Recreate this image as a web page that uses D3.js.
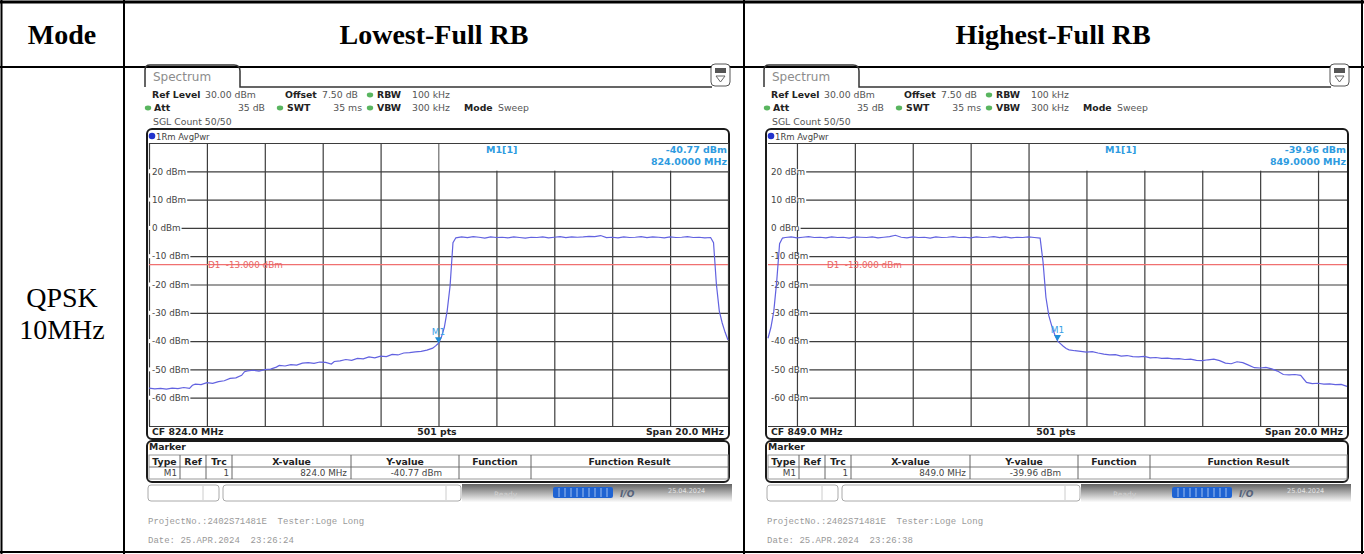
<!DOCTYPE html>
<html>
<head>
<meta charset="utf-8">
<script src="https://cdnjs.cloudflare.com/ajax/libs/d3/7.8.5/d3.min.js"></script>
<style>
  html, body { margin: 0; padding: 0; background: #fff; }
  svg { display: block; }
  .inst { font-family: "DejaVu Sans", Verdana, sans-serif; }
  .mono { font-family: "Liberation Mono", monospace; white-space: pre; }
</style>
</head>
<body>
<svg id="chart" width="1364" height="554"></svg>
<script>
// table texts
const columns = ["Mode", "Lowest-Full RB", "Highest-Full RB"];
const modeLines = ["QPSK", "10MHz"];

// analyzer y grid
const yTickValues = [20, 10, 0, -10, -20, -30, -40, -50, -60];
const yTickLabels = ["20 dBm", "10 dBm", "0 dBm", "-10 dBm", "-20 dBm", "-30 dBm", "-40 dBm", "-50 dBm", "-60 dBm"];

// per plot settings
const centerFreqs = [824.0, 849.0];
const markerFreqs = [824.0, 849.0];
const markerLevels = [-40.77, -39.96];
const limitLevel = -13;
const timeStamps = ["23:26:24", "23:26:38"];

// trace: [MHz, dBm]
const lowTrace = [
  [814.0,-56.6],[814.2,-56.9],[814.4,-56.7],[814.6,-57.0],[814.8,-56.6],[815.0,-56.8],[815.2,-56.4],[815.4,-56.7],
  [815.5,-55.6],[815.6,-55.2],[815.8,-55.4],[816.0,-54.7],[816.2,-54.9],[816.4,-54.3],[816.6,-54.0],[816.8,-53.2],
  [817.0,-53.0],[817.2,-52.1],[817.3,-50.8],[817.4,-50.5],[817.6,-50.3],[817.8,-50.6],[818.0,-50.1],[818.2,-49.9],
  [818.4,-49.2],[818.5,-48.6],[818.7,-48.8],[818.9,-48.3],[819.1,-48.5],[819.3,-47.8],[819.5,-47.6],[819.7,-47.9],
  [819.9,-47.4],[820.1,-47.5],[820.3,-48.1],[820.4,-47.2],[820.6,-47.0],[820.8,-46.5],[821.0,-46.8],[821.2,-46.1],
  [821.4,-46.3],[821.6,-45.6],[821.8,-45.9],[822.0,-45.3],[822.2,-45.5],[822.4,-44.7],[822.6,-44.9],[822.8,-44.2],
  [823.0,-44.1],[823.2,-43.8],[823.4,-43.6],[823.6,-43.2],[823.8,-42.5],[823.9,-41.7],[824.0,-40.77],[824.1,-38.6],
  [824.2,-35.2],[824.3,-29.3],[824.4,-20.5],[824.5,-5.2],[824.6,-3.5],[824.8,-3.2],[825.0,-3.4],[825.2,-3.1],
  [825.4,-3.3],[825.6,-3.6],[825.8,-3.2],[826.0,-3.4],[826.2,-3.3],[826.4,-3.5],[826.6,-3.2],[826.8,-3.4],
  [827.0,-3.6],[827.2,-3.3],[827.4,-3.4],[827.6,-3.2],[827.8,-3.5],[828.0,-3.3],[828.2,-3.1],[828.4,-3.4],
  [828.6,-3.2],[828.8,-3.3],[829.0,-3.2],[829.2,-3.0],[829.4,-3.1],[829.6,-2.7],[829.8,-3.4],[830.0,-3.3],
  [830.2,-3.5],[830.4,-3.2],[830.6,-3.4],[830.8,-3.3],[831.0,-3.1],[831.2,-3.4],[831.4,-3.2],[831.6,-3.3],
  [831.8,-3.5],[832.0,-3.2],[832.2,-3.4],[832.4,-3.3],[832.6,-3.1],[832.8,-3.4],[833.0,-3.3],[833.2,-3.5],
  [833.4,-3.4],[833.5,-5.2],[833.6,-20.0],[833.7,-29.4],[833.8,-33.6],[833.9,-36.9],[834.0,-39.6]
];

const highTrace = [
  [839.0,-39.0],[839.1,-35.2],[839.2,-29.5],[839.3,-19.0],[839.4,-5.6],[839.5,-3.6],[839.6,-3.4],[839.8,-3.2],
  [840.0,-3.5],[840.2,-3.3],[840.4,-3.1],[840.6,-3.4],[840.8,-3.3],[841.0,-3.5],[841.2,-3.2],[841.4,-3.4],
  [841.6,-3.3],[841.8,-3.6],[842.0,-3.2],[842.2,-3.3],[842.4,-3.4],[842.6,-3.2],[842.8,-3.5],[843.0,-3.3],
  [843.2,-3.1],[843.4,-2.6],[843.6,-3.3],[843.8,-3.5],[844.0,-3.2],[844.2,-3.4],[844.4,-3.3],[844.6,-3.6],
  [844.8,-3.2],[845.0,-3.4],[845.2,-3.3],[845.4,-3.1],[845.6,-3.4],[845.8,-3.3],[846.0,-3.5],[846.2,-3.2],
  [846.4,-3.4],[846.6,-3.3],[846.8,-3.1],[847.0,-3.4],[847.2,-3.2],[847.4,-3.5],[847.6,-3.3],[847.8,-3.4],
  [848.0,-3.2],[848.2,-3.4],[848.4,-3.6],[848.5,-12.0],[848.6,-24.5],[848.7,-31.0],[848.8,-34.6],[848.9,-37.6],
  [849.0,-39.96],[849.1,-40.9],[849.2,-41.8],[849.3,-42.6],[849.4,-43.1],[849.6,-43.4],[849.8,-43.6],[850.0,-43.9],
  [850.2,-43.7],[850.4,-44.2],[850.6,-44.6],[850.8,-44.9],[851.0,-44.8],[851.2,-45.3],[851.4,-45.1],[851.6,-45.5],
  [851.8,-45.6],[852.0,-45.4],[852.2,-45.9],[852.4,-45.8],[852.6,-46.1],[852.8,-46.0],[853.0,-46.3],[853.2,-46.2],
  [853.4,-46.5],[853.6,-46.4],[853.8,-46.8],[854.0,-46.9],[854.2,-46.6],[854.4,-46.4],[854.6,-46.9],[854.8,-47.8],
  [855.0,-48.0],[855.2,-47.3],[855.4,-47.6],[855.6,-48.5],[855.8,-49.4],[856.0,-49.5],[856.2,-49.3],[856.4,-49.8],
  [856.6,-50.6],[856.8,-51.8],[857.0,-51.9],[857.2,-51.8],[857.4,-52.1],[857.6,-54.6],[857.8,-55.0],[858.0,-54.9],
  [858.2,-55.2],[858.4,-55.1],[858.6,-55.4],[858.8,-55.3],[859.0,-56.0]
];

const traces = [lowTrace, highTrace];

const svg = d3.select("#chart");

// ---- the document table ----
const tbl = svg.append("g");
const colX = d3.scaleOrdinal().domain(columns).range([62, 434, 1053]);

tbl.selectAll("text.head")
  .data(columns)
  .enter()
  .append("text")
  .attr("class", "head")
  .attr("x", d => colX(d))
  .attr("y", 44)
  .attr("text-anchor", "middle")
  .style("font-family", "'Liberation Serif', 'Times New Roman', serif")
  .style("font-weight", "bold")
  .style("font-size", "28px")
  .text(d => d);

tbl.selectAll("text.mode")
  .data(modeLines)
  .enter()
  .append("text")
  .attr("class", "mode")
  .attr("x", 62)
  .attr("y", (d, i) => 307 + i * 32)
  .attr("text-anchor", "middle")
  .style("font-family", "'Liberation Serif', 'Times New Roman', serif")
  .style("font-size", "28px")
  .text(d => d);

const borders = [
  [0, 2, 1364, 2, 3], [0, 67, 1364, 67, 2], [0, 552, 1364, 552, 2],
  [1.5, 0, 1.5, 554, 2], [124, 0, 124, 554, 2], [744, 0, 744, 554, 2], [1362, 0, 1362, 554, 2]
];
tbl.selectAll("line")
  .data(borders)
  .enter()
  .append("line")
  .attr("x1", d => d[0]).attr("y1", d => d[1])
  .attr("x2", d => d[2]).attr("y2", d => d[3])
  .attr("stroke", "#000")
  .attr("stroke-width", d => d[4]);

// status bar gradient
const defs = svg.append("defs");
const grad = defs.append("linearGradient").attr("id", "sbar").attr("x1", 0).attr("y1", 0).attr("x2", 0).attr("y2", 1);
grad.append("stop").attr("offset", "0%").attr("stop-color", "#626262");
grad.append("stop").attr("offset", "100%").attr("stop-color", "#fbfbfb");

// ---- one analyzer screenshot ----
function drawPanel(i, dx) {
  const cf = centerFreqs[i];
  const g = svg.append("g").attr("class", "inst").attr("transform", "translate(" + dx + ",0)");

  const x = d3.scaleLinear().domain([cf - 10, cf + 10]).range([149, 728]);
  const y = d3.scaleLinear().domain([-70, 30]).range([426, 143]);

  // tab + header line
  g.append("path")
    .attr("d", "M145,87 V70 Q145,65 150,65 H234 Q240,65 240,71 V87 H712")
    .attr("fill", "none").attr("stroke", "#333").attr("stroke-width", 1.5);
  g.append("text").attr("x", 153).attr("y", 81).attr("fill", "#8c8c8c")
    .style("font-size", "12px").text("Spectrum");

  // little icon at top right
  g.append("rect").attr("x", 711).attr("y", 64).attr("width", 19).attr("height", 22).attr("rx", 4)
    .attr("fill", "#fff").attr("stroke", "#555").attr("stroke-width", 1);
  g.append("rect").attr("x", 715).attr("y", 68).attr("width", 11).attr("height", 5).attr("fill", "#555");
  g.append("path").attr("d", "M716,76 L725,76 L720.5,82 Z").attr("fill", "none").attr("stroke", "#666");

  // settings lines
  const hdr = [
    [152, 98, "Ref Level", true], [205, 98, "30.00 dBm", false], [285, 98, "Offset", true],
    [322, 98, "7.50 dB", false], [377, 98, "RBW", true], [412, 98, "100 kHz", false],
    [154, 111, "Att", true], [265, 111, "35 dB", false, "end"], [287, 111, "SWT", true],
    [362, 111, "35 ms", false, "end"], [377, 111, "VBW", true], [412, 111, "300 kHz", false],
    [464, 111, "Mode", true], [498, 111, "Sweep", false],
    [153, 125, "SGL Count 50/50", false]
  ];
  g.selectAll("text.hdr")
    .data(hdr)
    .enter()
    .append("text")
    .attr("class", "hdr")
    .attr("x", d => d[0]).attr("y", d => d[1])
    .attr("text-anchor", d => d[4] || "start")
    .attr("fill", d => d[3] ? "#222" : "#555")
    .style("font-weight", d => d[3] ? "bold" : "normal")
    .style("font-size", "9.3px")
    .text(d => d[2]);

  const dots = [[370, 95], [148, 108], [280, 108], [370, 108]];
  g.selectAll("ellipse.led")
    .data(dots)
    .enter()
    .append("ellipse")
    .attr("class", "led")
    .attr("cx", d => d[0]).attr("cy", d => d[1])
    .attr("rx", 3.2).attr("ry", 2.4)
    .attr("fill", "#59b55f");

  // diagram frame
  g.append("rect").attr("x", 147).attr("y", 129).attr("width", 582).attr("height", 310).attr("rx", 5)
    .attr("fill", "#fff").attr("stroke", "#1a1a1a").attr("stroke-width", 2);
  g.append("circle").attr("cx", 152).attr("cy", 136).attr("r", 3.3).attr("fill", "#2233cc");
  g.append("text").attr("x", 156).attr("y", 139.5).attr("fill", "#444")
    .style("font-size", "8.5px").text("1Rm AvgPwr");

  // grid
  const vGrid = g.append("g")
    .attr("transform", "translate(0,426)")
    .call(d3.axisBottom(x).ticks(10).tickSize(-283).tickFormat(""));
  const hGrid = g.append("g")
    .attr("transform", "translate(149,0)")
    .call(d3.axisLeft(y).tickValues(yTickValues.concat([30, -70])).tickSize(-579).tickFormat(""));
  [vGrid, hGrid].forEach(a => {
    a.select(".domain").remove();
    a.selectAll("line").attr("stroke", "#3d3d3d").attr("stroke-width", 1.2);
  });

  // marker readout box hides the top grid cell on the right
  g.append("rect").attr("x", x(cf) + 1).attr("y", y(30) + 1).attr("width", 728 - x(cf) - 1)
    .attr("height", y(20) - y(30) - 1.6).attr("fill", "#fff");
  g.append("text").attr("x", 486).attr("y", 153).attr("fill", "#2e9be0")
    .style("font-size", "9.5px").style("font-weight", "bold").text("M1[1]");
  g.append("text").attr("x", 727).attr("y", 153).attr("text-anchor", "end").attr("fill", "#2e9be0")
    .style("font-size", "9.5px").style("font-weight", "bold").text(markerLevels[i].toFixed(2) + " dBm");
  g.append("text").attr("x", 727).attr("y", 165).attr("text-anchor", "end").attr("fill", "#2e9be0")
    .style("font-size", "9.5px").style("font-weight", "bold").text(markerFreqs[i].toFixed(4) + " MHz");

  // y labels sit on a white patch that cuts the grid line
  const labBg = g.append("g");
  const labs = g.selectAll("text.ylab")
    .data(yTickValues)
    .enter()
    .append("text")
    .attr("class", "ylab")
    .attr("x", 152)
    .attr("y", d => y(d) + 3.2)
    .attr("fill", "#444")
    .style("font-size", "8.8px")
    .text((d, k) => yTickLabels[k]);
  labs.each(function (d) {
    const b = this.getBBox();
    labBg.append("rect")
      .attr("x", 149).attr("y", y(d) - 2)
      .attr("width", b.x + b.width + 1 - 149).attr("height", 4)
      .attr("fill", "#fff");
  });

  // limit line
  g.append("line").attr("x1", 149).attr("x2", 728).attr("y1", y(limitLevel)).attr("y2", y(limitLevel))
    .attr("stroke", "#f07070").attr("stroke-width", 1.2);
  g.append("text").attr("x", x(cf - 8) + 1).attr("y", y(limitLevel) + 3.2).attr("fill", "#e86464")
    .style("font-size", "8.8px").style("white-space", "pre").text("D1  -13.000 dBm");

  // trace
  const line = d3.line().x(d => x(d[0])).y(d => y(d[1]));
  g.append("path")
    .datum(traces[i])
    .attr("d", line)
    .attr("fill", "none")
    .attr("stroke", "#6262e0")
    .attr("stroke-width", 1.2);

  // marker
  const mx = x(markerFreqs[i]), my = y(markerLevels[i]);
  g.append("path").attr("d", "M" + (mx - 3.5) + "," + (my - 6) + " L" + (mx + 3.5) + "," + (my - 6) + " L" + mx + "," + my + " Z")
    .attr("fill", "#1f8ed6");
  g.append("text").attr("x", mx).attr("y", my - 8).attr("text-anchor", "middle").attr("fill", "#3aa0e6")
    .style("font-size", "9px").text("M1");

  // bottom line of diagram
  g.append("text").attr("x", 152).attr("y", 435).attr("fill", "#222")
    .style("font-size", "9.3px").style("font-weight", "bold").text("CF " + cf.toFixed(1) + " MHz");
  g.append("text").attr("x", 437).attr("y", 435).attr("text-anchor", "middle").attr("fill", "#222")
    .style("font-size", "9.3px").style("font-weight", "bold").text("501 pts");
  g.append("text").attr("x", 724).attr("y", 435).attr("text-anchor", "end").attr("fill", "#222")
    .style("font-size", "9.3px").style("font-weight", "bold").text("Span 20.0 MHz");

  // marker table
  g.append("rect").attr("x", 147).attr("y", 441).attr("width", 582).attr("height", 41).attr("rx", 5)
    .attr("fill", "#fff").attr("stroke", "#1a1a1a").attr("stroke-width", 2);
  g.append("text").attr("x", 149).attr("y", 450).attr("fill", "#222")
    .style("font-size", "9.3px").style("font-weight", "bold").text("Marker");

  const seps = [180, 206, 232, 351, 459, 531, 728];
  const heads = ["Type", "Ref", "Trc", "X-value", "Y-value", "Function", "Function Result"];
  const lefts = [149].concat(seps.slice(0, -1));
  g.append("rect").attr("x", 149).attr("y", 455).attr("width", 579).attr("height", 24)
    .attr("fill", "none").attr("stroke", "#999").attr("stroke-width", 1);
  g.append("line").attr("x1", 149).attr("x2", 728).attr("y1", 467).attr("y2", 467).attr("stroke", "#777");
  g.selectAll("line.sep")
    .data(seps.slice(0, -1))
    .enter()
    .append("line")
    .attr("class", "sep")
    .attr("x1", d => d).attr("x2", d => d).attr("y1", 455).attr("y2", 479)
    .attr("stroke", "#666").attr("stroke-width", 1);
  g.selectAll("text.th")
    .data(heads)
    .enter()
    .append("text")
    .attr("class", "th")
    .attr("x", (d, k) => (lefts[k] + seps[k]) / 2)
    .attr("y", 464.5)
    .attr("text-anchor", "middle")
    .attr("fill", "#222")
    .style("font-size", "9.3px").style("font-weight", "bold")
    .text(d => d);
  const row = [[177, "M1"], [229, "1"], [347, markerFreqs[i].toFixed(1) + " MHz"], [442, markerLevels[i].toFixed(2) + " dBm"]];
  g.selectAll("text.td")
    .data(row)
    .enter()
    .append("text")
    .attr("class", "td")
    .attr("x", d => d[0])
    .attr("y", 476)
    .attr("text-anchor", "end")
    .attr("fill", "#444")
    .style("font-size", "8.8px")
    .text(d => d[1]);

  // status bar
  g.append("rect").attr("x", 148).attr("y", 485).attr("width", 71).attr("height", 16).attr("rx", 3)
    .attr("fill", "#fff").attr("stroke", "#aaa");
  g.append("line").attr("x1", 203).attr("x2", 203).attr("y1", 486).attr("y2", 500).attr("stroke", "#ccc");
  g.append("rect").attr("x", 223).attr("y", 485).attr("width", 238).attr("height", 16).attr("rx", 3)
    .attr("fill", "#fff").attr("stroke", "#aaa");
  g.append("line").attr("x1", 446).attr("x2", 446).attr("y1", 486).attr("y2", 500).attr("stroke", "#ccc");
  g.append("rect").attr("x", 462).attr("y", 484).attr("width", 270).attr("height", 18).attr("fill", "url(#sbar)");
  g.append("text").attr("x", 494).attr("y", 497).attr("fill", "#cfcfcf").style("font-size", "7.5px").text("Ready");
  g.append("rect").attr("x", 553).attr("y", 487).attr("width", 60).attr("height", 11).attr("rx", 2).attr("fill", "#1f63d2");
  g.selectAll("line.seg")
    .data(d3.range(1, 10))
    .enter()
    .append("line")
    .attr("class", "seg")
    .attr("x1", d => 553 + d * 6).attr("x2", d => 553 + d * 6)
    .attr("y1", 488).attr("y2", 497)
    .attr("stroke", "#9fc0f0").attr("stroke-width", 1);
  g.append("text").attr("x", 620).attr("y", 497).attr("fill", "#55627a")
    .style("font-size", "9px").style("font-weight", "bold").style("font-style", "italic").text("I/O");
  g.append("text").attr("x", 668).attr("y", 493).attr("fill", "#e2e2e2").style("font-size", "6.5px").text("25.04.2024");

  // footer
  g.append("text").attr("class", "mono").attr("x", 148).attr("y", 524).attr("fill", "#999")
    .style("font-size", "9px")
    .text("ProjectNo.:2402S71481E  Tester:Loge Long");
  g.append("text").attr("class", "mono").attr("x", 148).attr("y", 543).attr("fill", "#999")
    .style("font-size", "9px")
    .text("Date: 25.APR.2024  " + timeStamps[i]);
}

drawPanel(0, 0);
drawPanel(1, 619);
</script>
</body>
</html>
